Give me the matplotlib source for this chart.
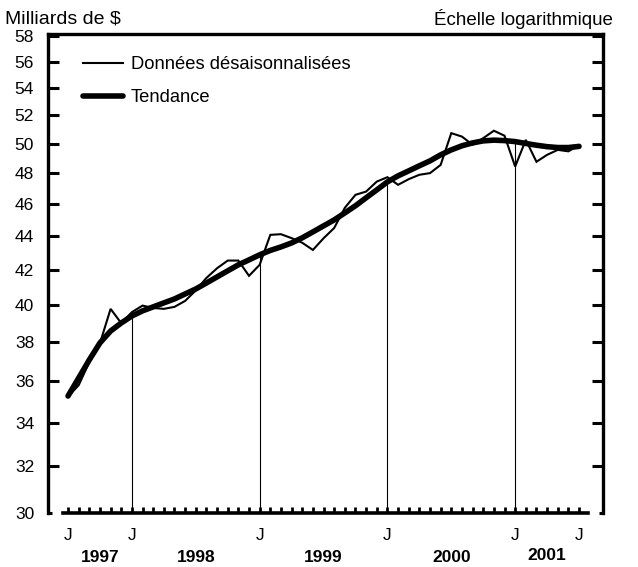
import matplotlib
matplotlib.use("Agg")
import matplotlib.pyplot as plt
from matplotlib.ticker import FixedLocator, NullLocator
import matplotlib.transforms as mtransforms

plt.rcParams['font.family'] = ['Liberation Sans', 'DejaVu Sans']

# Monthly data, July 1997 - July 2001 (billions of $)
raw = [35.24, 35.80, 36.97, 37.94, 39.79, 39.01, 39.61, 39.97, 39.84, 39.79,
       39.90, 40.23, 40.82, 41.53, 42.09, 42.54, 42.54, 41.65, 42.29, 44.08,
       44.12, 43.88, 43.60, 43.17, 43.87, 44.50, 45.76, 46.59, 46.80, 47.45,
       47.74, 47.24, 47.61, 47.90, 48.01, 48.56, 50.74, 50.50, 49.93, 50.39,
       50.91, 50.56, 48.45, 50.27, 48.77, 49.24, 49.58, 49.48, 49.90]
trend = [35.27, 36.16, 37.08, 37.96, 38.59, 39.02, 39.40, 39.68, 39.90, 40.12,
         40.34, 40.62, 40.90, 41.24, 41.59, 41.94, 42.29, 42.58, 42.88, 43.14,
         43.35, 43.59, 43.90, 44.26, 44.63, 45.00, 45.44, 45.89, 46.40, 46.91,
         47.43, 47.83, 48.16, 48.50, 48.83, 49.24, 49.58, 49.86, 50.06, 50.20,
         50.25, 50.22, 50.15, 50.02, 49.90, 49.80, 49.74, 49.74, 49.82]
month_letters = {0: "J", 6: "J", 18: "J", 30: "J", 42: "J", 48: "J"}
years = ["1997", "1998", "1999", "2000", "2001"]
year_pos = [3, 12, 24, 36, 45]
year_marks = [6, 18, 30, 42]
yticks = [30, 32, 34, 36, 38, 40, 42, 44, 46, 48, 50, 52, 54, 56, 58]

W, H = 638, 567
fig = plt.figure(figsize=(W / 100, H / 100), dpi=100)
ax = fig.add_axes([48 / W, 1 - 513 / H, (603 - 48) / W, (513 - 34) / H])

x = list(range(len(raw)))
ax.set_yscale('log')
ax.set_ylim(30, 58.2)
ax.set_xlim(-1.88, 50.25)

for i in year_marks:
    ax.plot([i, i], [30, trend[i]], color='black', lw=0.8, zorder=1)

ax.plot(x, raw, color='black', lw=1.5, zorder=3, label='Données désaisonnalisées',
        solid_joinstyle='miter')
ax.plot(x, trend, color='black', lw=4.0, zorder=2, label='Tendance',
        solid_capstyle='round')

# Y axis
ax.yaxis.set_major_locator(FixedLocator(yticks))
ax.yaxis.set_minor_locator(NullLocator())
ax.set_yticklabels([str(v) for v in yticks])
ax.tick_params(axis='y', which='major', direction='in', length=8, width=2.2,
               labelsize=12.5, pad=10, right=True, left=True)
for side in ['left', 'right', 'top']:
    ax.spines[side].set_linewidth(2.4)
yt = ax.yaxis.get_major_ticks()
yt[0].tick1line.set_markersize(3)
yt[0].tick2line.set_markersize(3)

# X axis
ax.xaxis.set_major_locator(FixedLocator(x))
ax.xaxis.set_minor_locator(NullLocator())
ax.set_xticklabels([month_letters.get(i, "") for i in x])
ax.tick_params(axis='x', which='major', direction='in', length=4.5, width=2.0,
               labelsize=12.5, pad=11, top=False)
ax.spines['bottom'].set_bounds(-0.47, 48.85)
ax.spines['bottom'].set_linewidth(2.6)

trans = mtransforms.blended_transform_factory(ax.transData, fig.transFigure)
for lab, p in zip(years, year_pos):
    yy = 1 - 557 / H if lab != "2001" else 1 - 555 / H
    ax.text(p, yy, lab, transform=trans, ha='center', va='center',
            fontsize=12.5, fontweight='bold')

fig.text(5 / W, 1 - 19 / H, "Milliards de $", ha='left', va='center', fontsize=14)
fig.text(613 / W, 1 - 19 / H, "Échelle logarithmique", ha='right', va='center', fontsize=13.5)

leg = ax.legend(loc='upper left', bbox_to_anchor=((83 - 48) / (603 - 48), 1 - (56 - 34) / (513 - 34)),
                frameon=False, fontsize=13.2, handlelength=2.2, handletextpad=0.4,
                labelspacing=0.9, borderaxespad=0, borderpad=0)

fig.savefig("out.png", dpi=100)
